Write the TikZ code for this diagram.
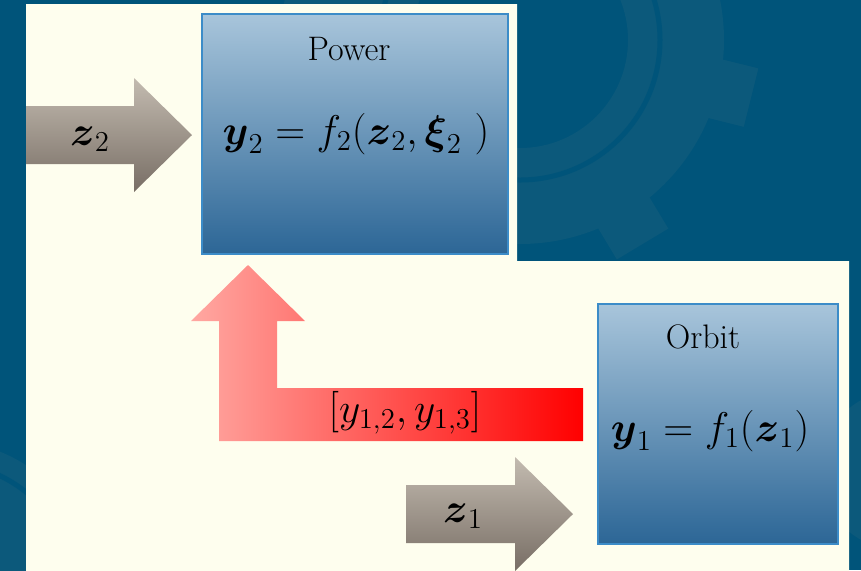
\documentclass[tikz,border=0pt]{standalone}
\usepackage{amsmath,amssymb}
\usepackage{tikz}
\usetikzlibrary{positioning}
\definecolor{bgblue}{RGB}{0,84,122}
\definecolor{gearblue}{RGB}{12,89,123}
\definecolor{cream}{RGB}{254,254,238}
\definecolor{boxtop}{RGB}{168,197,219}
\definecolor{boxbot}{RGB}{44,102,150}
\definecolor{boxline}{RGB}{60,140,200}
\definecolor{greytop}{RGB}{195,187,176}
\definecolor{greybot}{RGB}{120,110,101}
\definecolor{pinkred}{RGB}{255,168,162}
\definecolor{myred}{RGB}{255,0,0}

\begin{document}
\begin{tikzpicture}[x=0.5pt,y=-0.5pt,
  block/.style={draw=boxline, line width=0.6pt, rectangle, top color=boxtop, bottom color=boxbot, minimum width=#1, minimum height=120pt, inner sep=0pt},
  title/.style={font=\fontsize{17}{20}\selectfont},
  eqn/.style={font=\huge}]
  \clip (0,0) rectangle (861,570);
  % Background with gears
  \fill[bgblue] (0,0) rectangle (861,570);
  \fill[gearblue, even odd rule] (520,40) circle (102pt) (520,40) circle (54pt);
  \foreach \a in {76,121,...,436}
    \fill[gearblue, shift={(520,40)}, rotate=\a] (-30,195) rectangle (30,238);
  \draw[bgblue, line width=2.5pt] (520,40) circle (70pt);
  \fill[gearblue] (-60,600) circle (80pt);
  \draw[bgblue, line width=2.5pt] (-60,600) circle (69pt);
  \fill[gearblue] (900,470) circle (40pt);

  % Cream panel
  \fill[cream] (26,4) -- (517,4) -- (517,261) -- (849,261) -- (849,575) -- (26,575) -- cycle;

  % Blocks
  \node[block=153pt] (power) at (355,134) {};
  \node[block=120pt] (orbit) at (718,424) {};
  \node[title] (powertitle) at (349,49) {Power};
  \node[eqn] (powereq) at (356,134) {$\boldsymbol{y}_2 = f_2(\boldsymbol{z}_2, \boldsymbol{\xi}_2\ )$};
  \node[title] (orbittitle) at (703,337) {Orbit};
  \node[eqn] (orbiteq) at (710,431) {$\boldsymbol{y}_1 = f_1(\boldsymbol{z}_1)$};

  % Input arrows
  \shade[top color=greytop, bottom color=greybot] (26,106) -- (134,106) -- (134,78) -- (192,135)
    -- (134,192) -- (134,164) -- (26,164) -- cycle;
  \node[eqn] (ztwo) at (90,139) {$\boldsymbol{z}_2$};
  \shade[top color=greytop, bottom color=greybot] (406,485) -- (515,485) -- (515,457) -- (573,514)
    -- (515,571) -- (515,543) -- (406,543) -- cycle;
  \node[eqn] (zone) at (463,516) {$\boldsymbol{z}_1$};

  % Coupling arrow Orbit -> Power
  \shade[left color=pinkred, right color=myred] (219,441) -- (219,321) -- (191,321) -- (248,265)
    -- (305,321) -- (277,321) -- (277,388) -- (583,388) -- (583,441) -- cycle;
  \node[eqn] (coupling) at (405,413) {$[y_{1,2}, y_{1,3}]$};
\end{tikzpicture}
\end{document}
